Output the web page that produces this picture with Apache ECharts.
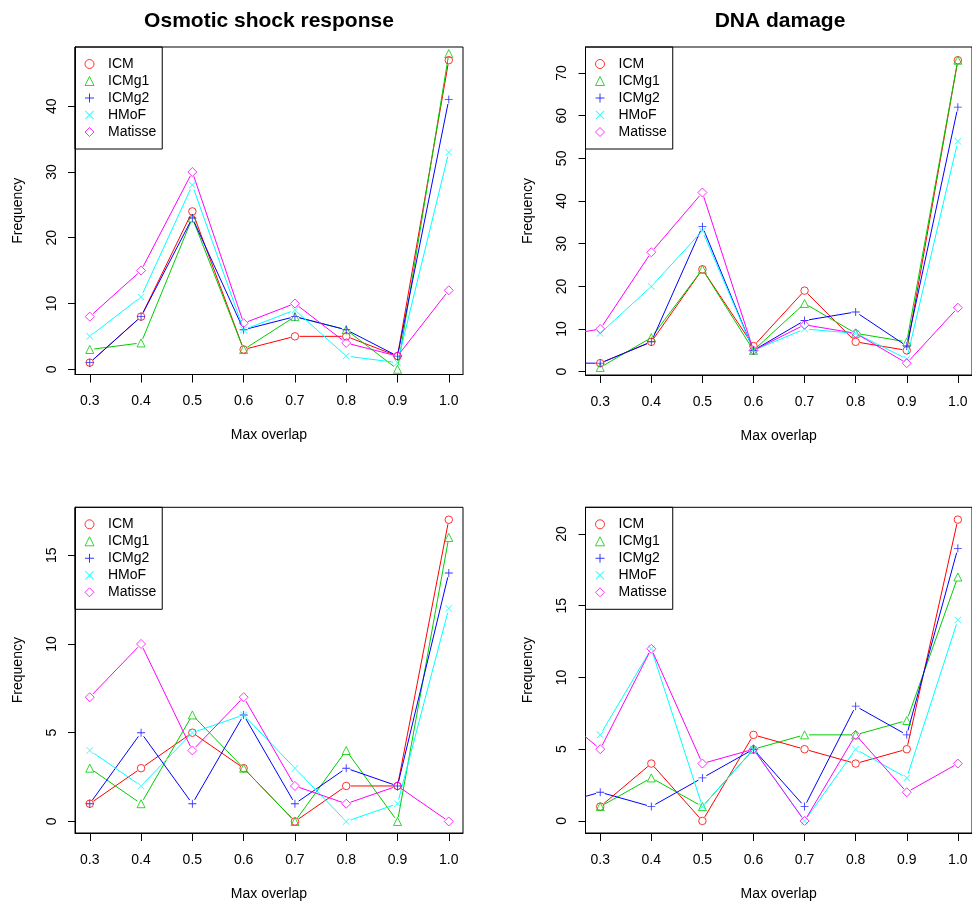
<!DOCTYPE html>
<html><head><meta charset="utf-8">
<script src="https://cdn.jsdelivr.net/npm/echarts@6/dist/echarts.min.js"></script>
<style>html,body{margin:0;padding:0;background:#fff}#c{width:972px;height:902px}</style>
</head><body><div id="c"></div>
<script>
// ---------- data ----------
const seriesNames = ['ICM', 'ICMg1', 'ICMg2', 'HMoF', 'Matisse'];
const xTickValues = [0.3, 0.4, 0.5, 0.6, 0.7, 0.8, 0.9, 1.0];
const xLeftPanels = [0.3, 0.4, 0.5, 0.6, 0.7, 0.8, 0.9, 1.0];
const xRightPanels = [0.2, 0.3, 0.4, 0.5, 0.6, 0.7, 0.8, 0.9, 1.0];

// Osmotic shock response (top left)
const osmoICM     = [1, 8, 24, 3, 5, 5, 2, 47];
const osmoICMg1   = [3, 4, 23, 3, 8, 6, 0, 48];
const osmoICMg2   = [1, 8, 23, 6, 8, 6, 2, 41];
const osmoHMoF    = [5, 11, 28, 6, 9, 2, 1, 33];
const osmoMatisse = [8, 15, 30, 7, 10, 4, 2, 12];
const osmoYTicks  = [0, 10, 20, 30, 40];

// DNA damage (top right)
const dnaICM     = [null, 2, 7, 24, 6, 19, 7, 5, 73];
const dnaICMg1   = [null, 1, 8, 24, 5, 16, 9, 7, 73];
const dnaICMg2   = [2, 2, 7, 34, 5, 12, 14, 6, 62];
const dnaHMoF    = [null, 9, 20, 33, 5, 10, 9, 3, 54];
const dnaMatisse = [8, 10, 28, 42, 5, 11, 9, 2, 15];
const dnaYTicks  = [0, 10, 20, 30, 40, 50, 60, 70];

// bottom left
const blICM     = [1, 3, 5, 3, 0, 2, 2, 17];
const blICMg1   = [3, 1, 6, 3, 0, 4, 0, 16];
const blICMg2   = [1, 5, 1, 6, 1, 3, 2, 14];
const blHMoF    = [4, 2, 5, 6, 3, 0, 1, 12];
const blMatisse = [7, 10, 4, 7, 2, 1, 2, 0];
const blYTicks  = [0, 5, 10, 15];

// bottom right
const brICM     = [null, 1, 4, 0, 6, 5, 4, 5, 21];
const brICMg1   = [null, 1, 3, 1, 5, 6, 6, 7, 17];
const brICMg2   = [1, 2, 1, 3, 5, 1, 8, 6, 19];
const brHMoF    = [null, 6, 12, 1, 5, 0, 5, 3, 14];
const brMatisse = [8, 5, 12, 4, 5, 0, 6, 2, 4];
const brYTicks  = [0, 5, 10, 15, 20];

// ---------- styling / layout ----------
const FONT = '"Liberation Sans", Arial, Helvetica, sans-serif';
const colors = ['#FF0000', '#00CD00', '#0000FF', '#00FFFF', '#FF00FF'];
const plusPath = 'path://M0,4.45H10V5.55H0Z M4.45,0H5.55V10H4.45Z';
const crossPath = 'path://M0.78,0L10,9.22L9.22,10L0,0.78Z M9.22,0L10,0.78L0.78,10L0,9.22Z';
const symbols = ['circle', 'triangle', plusPath, crossPath, 'diamond'];
const symbolSizes = [7.5, 8, 8, 7, 9];
const hollow = [true, true, false, false, true];

const panels = [
  { title: 'Osmotic shock response', titleX: 269, x: xLeftPanels,
    vals: [osmoICM, osmoICMg1, osmoICMg2, osmoHMoF, osmoMatisse], yTicks: osmoYTicks,
    yMin: -0.8, yMax: 49.0, left: 75, top: 47, height: 327.5 },
  { title: 'DNA damage', titleX: 780, x: xRightPanels,
    vals: [dnaICM, dnaICMg1, dnaICMg2, dnaHMoF, dnaMatisse], yTicks: dnaYTicks,
    yMin: -0.77, yMax: 76.1, left: 585.5, top: 47, height: 328 },
  { title: null, x: xLeftPanels,
    vals: [blICM, blICMg1, blICMg2, blHMoF, blMatisse], yTicks: blYTicks,
    yMin: -0.65, yMax: 17.7, left: 75, top: 507.3, height: 326 },
  { title: null, x: xRightPanels,
    vals: [brICM, brICMg1, brICMg2, brHMoF, brMatisse], yTicks: brYTicks,
    yMin: -0.84, yMax: 21.86, left: 585.5, top: 507.3, height: 326.5 }
];

const GAP = 4.5;
function makeRenderItem(color) {
  return function (params, api) {
    const p1 = api.coord([api.value(0), api.value(1)]);
    const p2 = api.coord([api.value(2), api.value(3)]);
    const dx = p2[0] - p1[0], dy = p2[1] - p1[1];
    const len = Math.sqrt(dx * dx + dy * dy);
    if (len <= 2 * GAP) return null;
    const ux = dx / len, uy = dy / len;
    return {
      type: 'line',
      shape: { x1: p1[0] + ux * GAP, y1: p1[1] + uy * GAP, x2: p2[0] - ux * GAP, y2: p2[1] - uy * GAP },
      style: { stroke: color, lineWidth: 1 }
    };
  };
}

const legendData = seriesNames.map((n, si) => ({
  name: n,
  icon: symbols[si],
  itemStyle: hollow[si]
    ? { color: 'transparent', borderColor: colors[si], borderWidth: 1 }
    : { color: colors[si], borderColor: colors[si], borderWidth: 0 }
}));

const grid = [], xAxis = [], yAxis = [], series = [], legend = [], graphic = [];
panels.forEach((p, gi) => {
  grid.push({ left: p.left, top: p.top, width: 388, height: p.height, show: true,
    borderColor: '#000', borderWidth: 1, backgroundColor: 'transparent', containLabel: false });
  xAxis.push({
    type: 'value', gridIndex: gi, min: 0.2712, max: 1.0277,
    name: 'Max overlap', nameLocation: 'middle', nameGap: 54,
    nameTextStyle: { fontSize: 14, fontFamily: FONT, color: '#000' },
    axisLine: { show: true, onZero: false, lineStyle: { color: '#000', width: 1 } },
    axisTick: { show: true, length: 8, customValues: xTickValues, lineStyle: { color: '#000' } },
    axisLabel: { customValues: xTickValues, margin: 20, fontSize: 14, fontFamily: FONT, color: '#000',
      formatter: v => Number(v).toFixed(1) },
    splitLine: { show: false }
  });
  yAxis.push({
    type: 'value', gridIndex: gi, min: p.yMin, max: p.yMax,
    name: 'Frequency', nameLocation: 'middle', nameGap: 50, nameRotate: 90,
    nameTextStyle: { fontSize: 14, fontFamily: FONT, color: '#000' },
    axisLine: { show: true, onZero: false, lineStyle: { color: '#000', width: 1 } },
    axisTick: { show: true, length: 7, customValues: p.yTicks, lineStyle: { color: '#000' } },
    axisLabel: { customValues: p.yTicks, rotate: 90, margin: 16, fontSize: 14, fontFamily: FONT, color: '#000',
      formatter: v => String(Math.round(v)) },
    splitLine: { show: false }
  });
  p.vals.forEach((vals, si) => {
    const pts = [], segs = [];
    for (let i = 0; i < vals.length; i++) {
      if (vals[i] !== null) pts.push([p.x[i], vals[i]]);
      if (i < vals.length - 1 && vals[i] !== null && vals[i + 1] !== null) {
        segs.push([p.x[i], vals[i], p.x[i + 1], vals[i + 1]]);
      }
    }
    series.push({
      type: 'custom', name: seriesNames[si] + ' line', xAxisIndex: gi, yAxisIndex: gi,
      renderItem: makeRenderItem(colors[si]), clip: true, silent: true, z: 2,
      encode: { x: [0, 2], y: [1, 3] }, data: segs
    });
    series.push({
      type: 'scatter', name: seriesNames[si], xAxisIndex: gi, yAxisIndex: gi,
      symbol: symbols[si], symbolSize: symbolSizes[si], clip: true, z: 3, silent: true,
      itemStyle: hollow[si]
        ? { color: 'transparent', borderColor: colors[si], borderWidth: 1 }
        : { color: colors[si], borderWidth: 0 },
      data: pts.filter(d => d[0] > 0.25)
    });
  });
  legend.push({
    left: p.left, top: p.top, orient: 'vertical', data: legendData, selectedMode: false,
    borderColor: '#000', borderWidth: 1, borderRadius: 0, padding: [10, 6, 10, 9.5],
    itemGap: 3, itemWidth: 9, itemHeight: 9, symbolKeepAspect: true,
    textStyle: { fontSize: 14, fontFamily: FONT, color: '#000', lineHeight: 14, padding: [0, 0, 0, 9] }
  });
  if (p.title) {
    graphic.push({ type: 'text', x: p.titleX, y: 21,
      style: { text: p.title, fontSize: 21, fontWeight: 'bold', fontFamily: FONT, fill: '#000',
        textAlign: 'center', textVerticalAlign: 'middle' } });
  }
});

const chart = echarts.init(document.getElementById('c'), null, { renderer: 'canvas' });
chart.setOption({ animation: false, backgroundColor: '#fff', grid, xAxis, yAxis, series, legend, graphic });
</script>
</body></html>
